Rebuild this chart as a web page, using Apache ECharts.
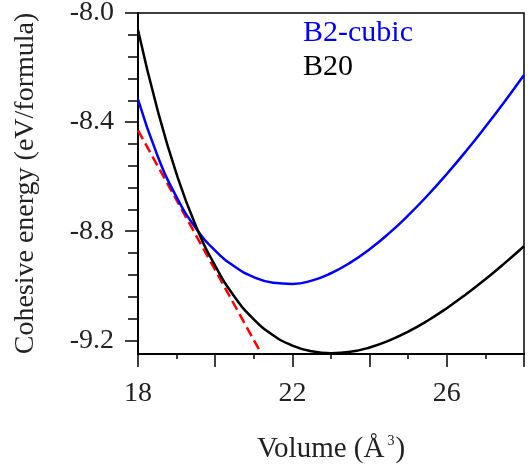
<!DOCTYPE html>
<html><head><meta charset="utf-8">
<script src="https://cdn.jsdelivr.net/npm/echarts@6/dist/echarts.min.js"></script>
<style>html,body{margin:0;padding:0;background:#fff}#c{width:528px;height:465px}</style>
</head><body><div id="c"></div>
<script>
// Volume grid (Å^3) shared by both curves
const volumes = [18.0, 18.5, 19.0, 19.5, 20.0, 20.5, 21.0, 21.5, 22.0, 22.5, 23.0, 23.5, 24.0, 24.5, 25.0, 25.5, 26.0, 26.5, 27.0, 27.5, 28.0];
// B2-cubic cohesive energy (eV/formula)
const b2Energy = [-8.317, -8.521, -8.675, -8.789, -8.871, -8.929, -8.968, -8.989, -8.993, -8.981, -8.954, -8.915, -8.866, -8.808, -8.742, -8.669, -8.590, -8.506, -8.417, -8.324, -8.227];
// B20 cohesive energy (eV/formula)
const b20Energy = [-8.062, -8.352, -8.591, -8.781, -8.927, -9.040, -9.123, -9.181, -9.219, -9.240, -9.247, -9.242, -9.226, -9.201, -9.168, -9.128, -9.082, -9.031, -8.976, -8.917, -8.855];
// common tangent (red dashed)
const tangentVolume = [18.0, 21.2];
const tangentEnergy = [-8.43, -9.25];
// axis ticks
const yMajorTicks = [-9.2, -8.8, -8.4, -8.0];
const yMinorTicks = [-9.12, -9.04, -8.96, -8.88, -8.72, -8.64, -8.56, -8.48, -8.32, -8.24, -8.16, -8.08];
const xTickLabels = [18, 22, 26];
const seriesNames = ['B2-cubic', 'B20'];

const zip = (xs, ys) => xs.map((x, i) => [x, ys[i]]);
const FONT = '"Liberation Serif", "Times New Roman", serif';
const chart = echarts.init(document.getElementById('c'), null, {renderer: 'canvas'});
chart.setOption({
  animation: false,
  backgroundColor: '#fff',
  grid: {left: 138, right: 4, top: 13, bottom: 111, outerBoundsMode: 'none', containLabel: false,
    show: true, borderColor: '#000', borderWidth: 1.5, backgroundColor: 'transparent'},
  legend: {
    orient: 'vertical', left: 293, top: 11, icon: 'none', itemWidth: 0, itemHeight: 0, itemGap: 0,
    selectedMode: false,
    textStyle: {fontFamily: FONT, fontSize: 30, lineHeight: 34},
    data: [
      {name: seriesNames[0], textStyle: {color: '#0000ff'}},
      {name: seriesNames[1], textStyle: {color: '#000000'}}
    ]
  },
  xAxis: {
    type: 'value', min: 18, max: 28, interval: 2,
    name: 'Volume (Å{sup|3})', nameLocation: 'middle', nameGap: 81,
    nameTextStyle: {fontFamily: FONT, fontSize: 29, color: '#222',
      rich: {sup: {fontFamily: FONT, fontSize: 14, lineHeight: 14, color: '#222', verticalAlign: 'bottom', padding: [0, 1, 16, 3]}}},
    axisLine: {lineStyle: {color: '#000', width: 2}},
    axisTick: {show: true, inside: false, length: 13, lineStyle: {color: '#000', width: 1.5}},
    minorTick: {show: true, splitNumber: 2, length: 5, lineStyle: {color: '#000', width: 1.5}},
    axisLabel: {customValues: xTickLabels, margin: 26, fontFamily: FONT, fontSize: 28, color: '#222'},
    splitLine: {show: false}
  },
  yAxis: [{
    type: 'value', min: -9.25, max: -8.0,
    name: 'Cohesive energy (eV/formula)', nameLocation: 'middle', nameGap: 98, nameRotate: 90,
    nameTextStyle: {fontFamily: FONT, fontSize: 28, color: '#222'},
    axisLine: {lineStyle: {color: '#000', width: 2}},
    axisTick: {show: true, inside: false, length: 13, customValues: yMajorTicks, lineStyle: {color: '#000', width: 1.5}},
    axisLabel: {customValues: yMajorTicks, margin: 24, fontFamily: FONT, fontSize: 28, color: '#222',
      formatter: v => v.toFixed(1)},
    splitLine: {show: false}
  }, {
    type: 'value', min: -9.25, max: -8.0, position: 'left', offset: 0,
    axisLine: {show: false},
    axisTick: {show: true, inside: false, length: 10, customValues: yMinorTicks, lineStyle: {color: '#000', width: 1.5}},
    axisLabel: {show: false},
    splitLine: {show: false}
  }],
  series: [
    {name: seriesNames[0], type: 'line', yAxisIndex: 0, data: zip(volumes, b2Energy), smooth: 0.5,
      showSymbol: false, symbol: 'none', lineStyle: {color: '#0000ff', width: 2.5}, itemStyle: {color: '#0000ff'}, z: 3},
    {name: seriesNames[1], type: 'line', yAxisIndex: 0, data: zip(volumes, b20Energy), smooth: 0.5,
      showSymbol: false, symbol: 'none', lineStyle: {color: '#000000', width: 2.5}, itemStyle: {color: '#000'}, z: 4},
    {name: 'tangent', type: 'line', yAxisIndex: 0, data: zip(tangentVolume, tangentEnergy),
      showSymbol: false, symbol: 'none', lineStyle: {color: '#ff0000', width: 2.5, type: [10, 5]}, z: 2}
  ]
});
</script></body></html>
